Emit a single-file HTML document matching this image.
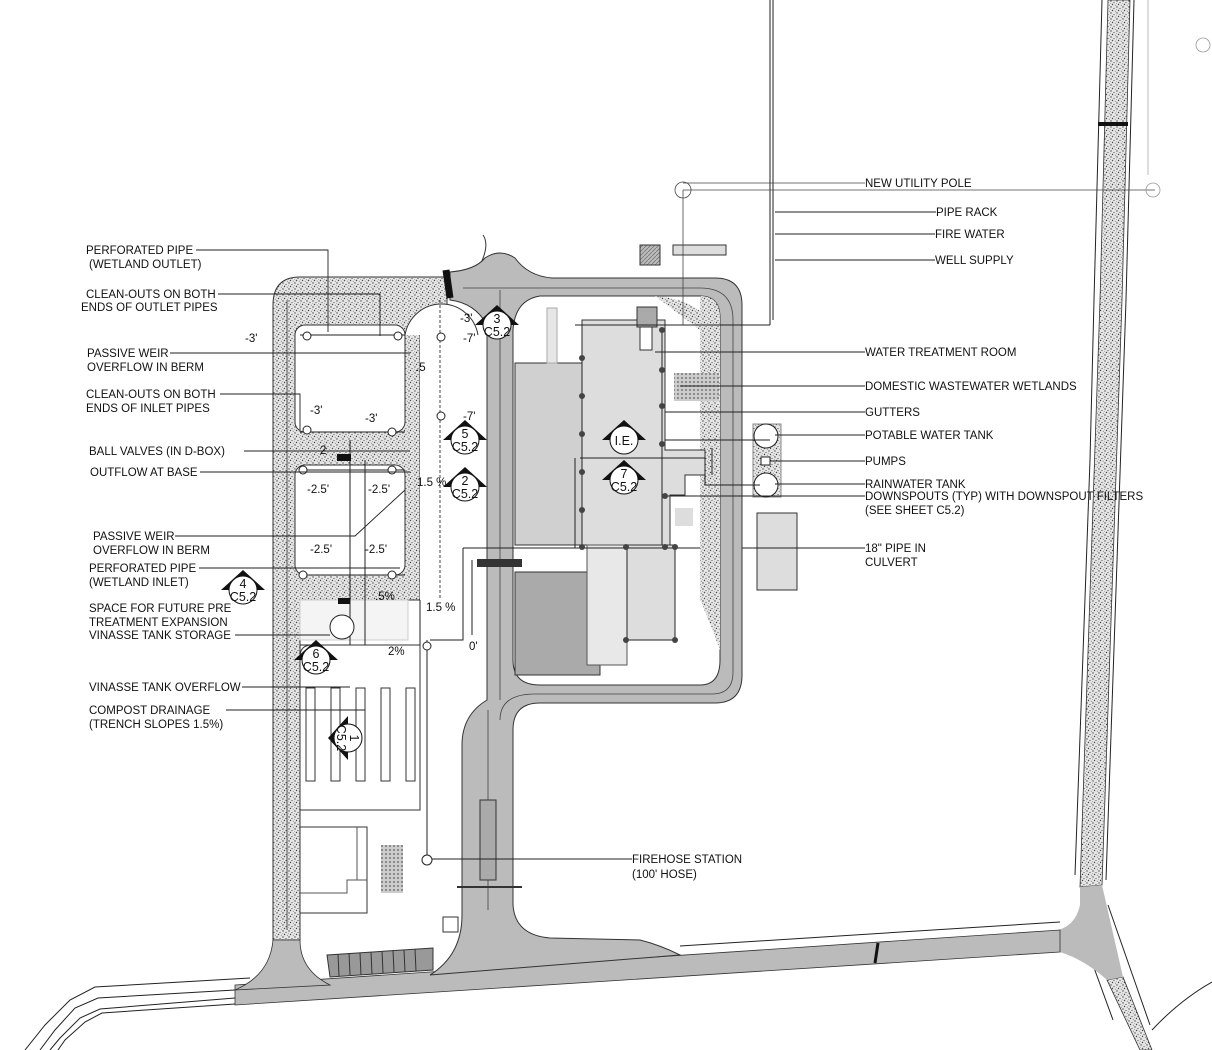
<!DOCTYPE html>
<html><head><meta charset="utf-8"><style>
html,body{margin:0;padding:0;background:#fff;}
svg{display:block;}
text{font-family:"Liberation Sans",sans-serif;font-size:11.5px;fill:#111;}
.m{font-size:12.5px;text-anchor:middle;}
</style></head><body>
<svg width="1212" height="1050" viewBox="0 0 1212 1050" xmlns="http://www.w3.org/2000/svg">
<defs>
<pattern id="st" width="6" height="6" patternUnits="userSpaceOnUse">
<rect width="6" height="6" fill="#e6e6e6"/>
<circle cx="1" cy="1" r="0.7" fill="#444"/><circle cx="4" cy="2.5" r="0.6" fill="#555"/><circle cx="2.5" cy="4.5" r="0.7" fill="#444"/><circle cx="5.3" cy="5.3" r="0.5" fill="#666"/><circle cx="0.5" cy="3.5" r="0.4" fill="#777"/>
</pattern>
<pattern id="hx" width="4" height="4" patternUnits="userSpaceOnUse"><rect width="4" height="4" fill="#ccc"/><circle cx="2" cy="2" r="1" fill="#777"/></pattern>
<pattern id="hatch" width="4" height="4" patternUnits="userSpaceOnUse"><rect width="4" height="4" fill="#bbb"/><path d="M0 4L4 0" stroke="#777" stroke-width="0.8"/></pattern>
</defs>

<!-- right road (vertical) -->
<path d="M1108 0 L1130 0 L1122 300 L1102 885 L1080 887 L1100 300 Z" fill="url(#st)" stroke="#333" stroke-width="0.8"/>
<path d="M1102 0 L1094 300 L1090 460 L1075 875" fill="none" stroke="#222"/>
<path d="M1134 0 L1126 300 L1106 880" fill="none" stroke="#222"/>
<line x1="1098" y1="124" x2="1128" y2="124" stroke="#111" stroke-width="4"/>
<path d="M1107 980 L1123 977 L1152 1050 L1140 1050 Z" fill="url(#st)" stroke="#333" stroke-width="0.8"/>
<path d="M1093 965 L1113 1020" stroke="#222" fill="none"/>
<path d="M1108 905 L1150 1025" stroke="#222" fill="none"/>
<path d="M1152 1030 Q1180 1000 1212 982" stroke="#222" fill="none"/>
<!-- junction -->
<path d="M1080 887 L1102 885 L1123 977 L1107 980 Q1085 960 1060 952 L1053 931 Q1075 928 1080 905 Z" fill="#bbb"/>

<!-- bottom road -->
<path d="M235 985 L1060 930 L1060 952 L235 1005 Z" fill="#bbb" stroke="#333" stroke-width="0.8"/>
<path d="M680 946 L1060 922" stroke="#222" fill="none"/>
<line x1="878" y1="943" x2="875" y2="963" stroke="#111" stroke-width="3"/>
<!-- bottom-left lines -->
<path d="M250 978 L95 987 L70 1000 L45 1025 L25 1050" fill="none" stroke="#222"/>
<path d="M235 990 L98 998 L75 1008 L55 1030 L40 1050" fill="none" stroke="#222"/>
<path d="M235 998 L100 1009 L80 1018 L60 1038 L50 1050" fill="none" stroke="#222"/>
<path d="M235 1004 L102 1013 L85 1022 L65 1040 L58 1050" fill="none" stroke="#222"/>

<!-- left stippled berm -->
<path d="M273 305 Q273 277 300 277 L447 277 L447 330 L420 330 L420 600 L300 600 L300 940 L273 940 Z" fill="url(#st)" stroke="#333" stroke-width="1"/>
<rect x="295" y="325" width="110" height="107" rx="10" fill="#fff" stroke="#333"/>
<rect x="295" y="465" width="110" height="110" rx="10" fill="#fff" stroke="#333"/>
<path d="M287 300 L287 930" stroke="#555" fill="none"/>
<rect x="300" y="600" width="108" height="40" fill="#f4f4f4" stroke="#ccc"/>
<!-- bottom-left gray flare -->
<path d="M273 940 L300 940 Q300 970 330 985 L235 990 Q270 975 273 940 Z" fill="#bbb" stroke="#333" stroke-width="0.8"/>

<!-- arc cul-de-sac -->
<path d="M405 335 A37 37 0 0 1 478 335 L478 600 L420 600 L420 335 Z" fill="#fff"/>
<path d="M405 335 A37 37 0 0 1 478 335" fill="none" stroke="#333"/>
<path d="M440 300 L440 598" stroke="#444" stroke-dasharray="3 2"/>
<path d="M483 235 Q490 245 480 265" fill="none" stroke="#333"/>

<!-- main road -->
<path fill-rule="evenodd" d="M450 272 Q475 270 485 258 Q500 248 515 258 Q528 276 552 278 L715 278 Q742 278 742 305 L742 675 Q742 703 715 703 L540 703 Q513 703 513 730 L513 905 Q515 935 550 938 L640 940 Q660 945 680 955 L430 975 Q462 955 462 915 L462 745 Q462 715 487 700 L487 325 Q475 303 450 300 Z M540 296 L700 296 Q720 296 720 318 L720 660 Q720 685 700 685 L540 685 Q513 685 513 660 L513 330 Q515 300 540 296 Z" fill="#bbb" stroke="#333" stroke-width="1"/>
<path d="M463 288 L700 288 Q733 288 733 320 L733 672 Q733 694 712 694 L535 694 Q500 694 500 720 M500 290 L500 700 M488 710 L488 910" fill="none" stroke="#444" stroke-width="0.8"/>
<path d="M700 296 Q720 296 720 318 L720 650 Q705 610 700 600 Z" fill="url(#st)"/>
<path d="M655 296 Q705 300 716 335 L700 330 Z" fill="url(#st)"/>
<line x1="446" y1="270" x2="450" y2="298" stroke="#111" stroke-width="7"/>
<!-- culvert pipe -->
<rect x="477" y="559" width="45" height="8" fill="#333"/>
<!-- firehose station box -->
<rect x="480" y="800" width="16" height="80" fill="#aaa" stroke="#333"/>
<line x1="457" y1="887" x2="522" y2="887" stroke="#333" stroke-width="2"/>

<!-- buildings -->
<rect x="515" y="363" width="67" height="182" fill="#d0d0d0" stroke="#333"/>
<path d="M582 320 L640 320 L640 350 L652 350 L652 320 L665 320 L665 450 L705 450 L705 475 L685 475 L685 495 L670 495 L670 545 L582 545 Z" fill="#ddd" stroke="#333"/>
<path d="M515 572 L600 572 L600 600 L590 600 L590 660 L600 660 L600 675 L515 675 Z" fill="#aaa" stroke="#333"/>
<rect x="627" y="545" width="48" height="95" fill="#ddd" stroke="#333"/>
<rect x="587" y="545" width="40" height="120" fill="#e8e8e8" stroke="#555"/>
<rect x="547" y="308" width="10" height="55" fill="#e6e6e6" stroke="#aaa"/>
<rect x="675" y="508" width="18" height="18" fill="#ddd"/>
<rect x="640" y="245" width="20" height="20" fill="url(#hatch)" stroke="#333"/>
<rect x="673" y="245" width="53" height="10" fill="#ddd" stroke="#333"/>
<rect x="637" y="307" width="20" height="20" fill="#aaa" stroke="#333"/>
<rect x="674" y="373" width="45" height="28" fill="url(#hx)"/>
<rect x="757" y="513" width="40" height="77" fill="#ddd" stroke="#333"/>
<rect x="753" y="424" width="28" height="73" fill="url(#st)" stroke="#888"/>
<circle cx="766" cy="436" r="12" fill="#fff" stroke="#222"/>
<circle cx="766" cy="485" r="12" fill="#fff" stroke="#222"/>
<rect x="761" y="457" width="9" height="8" fill="#fff" stroke="#222"/>

<!-- pipe networks -->
<g fill="none" stroke="#222" stroke-width="1">
<path d="M582 325 L582 548 M575 325 L770 325 M770 0 L770 325 M773 0 L773 320"/>
<path d="M575 458 L575 548 L700 548 M580 458 L705 458 L705 485 L760 485 M662 330 L662 545 M665 440 L770 440 M712 448 L712 475 M668 548 L675 548 L675 640 L627 640 L627 548"/>
<path d="M463 548 L582 548 M463 548 L463 640 L430 640 M472 560 L472 635"/>
<path d="M300 335 L405 335 M300 575 L405 575 M300 470 L405 470 M300 432 L405 432"/>
<path d="M350 440 L350 720 M365 460 L365 710 M420 600 L420 645 L300 645"/>
<path d="M427 640 L427 860"/>
</g>
<g fill="none" stroke="#444" stroke-width="0.8">
<circle cx="683" cy="190" r="8"/><line x1="683" y1="190" x2="683" y2="325"/>
<line x1="683" y1="190" x2="1155" y2="190"/>
<line x1="683" y1="183" x2="865" y2="183"/>
<circle cx="1153" cy="190" r="7" stroke="#999"/><line x1="1148" y1="0" x2="1148" y2="175" stroke="#aaa"/>
<circle cx="1203" cy="45" r="7" stroke="#999"/>
</g>
<g fill="#fff" stroke="#222">
<circle cx="307" cy="336" r="4"/><circle cx="398" cy="336" r="4"/><circle cx="307" cy="430" r="4"/><circle cx="392" cy="432" r="4"/>
<circle cx="303" cy="470" r="4"/><circle cx="392" cy="470" r="4"/><circle cx="303" cy="575" r="4"/><circle cx="392" cy="575" r="4"/>
<circle cx="441" cy="337" r="4"/><circle cx="441" cy="416" r="4"/><circle cx="427" cy="860" r="5"/><circle cx="427" cy="646" r="4"/>
<circle cx="342" cy="627" r="12"/>
</g>
<g fill="#444">
<circle cx="582" cy="358" r="3"/><circle cx="582" cy="396" r="3"/><circle cx="582" cy="434" r="3"/><circle cx="582" cy="472" r="3"/><circle cx="582" cy="510" r="3"/><circle cx="582" cy="547" r="3"/>
<circle cx="662" cy="330" r="3"/><circle cx="662" cy="370" r="3"/><circle cx="662" cy="406" r="3"/><circle cx="662" cy="444" r="3"/><circle cx="665" cy="496" r="3"/>
<circle cx="626" cy="547" r="3"/><circle cx="665" cy="547" r="3"/><circle cx="675" cy="547" r="3"/><circle cx="626" cy="640" r="3"/><circle cx="675" cy="640" r="3"/>
</g>
<rect x="337" y="454" width="14" height="7" fill="#111"/>
<rect x="338" y="598" width="12" height="6" fill="#111"/>

<!-- compost area -->
<path d="M300 657 Q300 645 312 645 L420 645 L420 810 L300 810 Z" fill="#fff" stroke="#333"/>
<g fill="#fff" stroke="#333"><rect x="306" y="688" width="9" height="93"/><rect x="331" y="688" width="9" height="93"/><rect x="356" y="688" width="9" height="93"/><rect x="381" y="688" width="9" height="93"/><rect x="406" y="688" width="9" height="93"/></g>
<rect x="300" y="827" width="67" height="86" fill="#fff" stroke="#333"/>
<path d="M357 827 L357 880 L367 880 M300 893 L347 893 L347 880 L367 880" fill="none" stroke="#555"/>
<rect x="381" y="845" width="22" height="48" fill="url(#hx)"/>
<rect x="443" y="917" width="15" height="15" fill="#fff" stroke="#333"/>
<path d="M327 955 L433 948 L433 970 L330 977 Z" fill="#999" stroke="#333"/>
<g stroke="#333"><line x1="338" y1="954" x2="339" y2="976"/><line x1="349" y1="953" x2="350" y2="975"/><line x1="360" y1="953" x2="361" y2="975"/><line x1="371" y1="952" x2="372" y2="974"/><line x1="382" y1="951" x2="383" y2="973"/><line x1="393" y1="950" x2="394" y2="972"/><line x1="404" y1="950" x2="405" y2="972"/><line x1="415" y1="949" x2="416" y2="971"/></g>

<!-- leaders -->
<g stroke="#222" stroke-width="0.9" fill="none">
<path d="M196 250 L328 250 L328 332"/><path d="M218 294 L380 294 L380 336"/>
<path d="M170 353 L410 353"/><path d="M220 394 L300 394 L300 430"/>
<path d="M244 451 L410 451"/><path d="M200 472 L410 472"/>
<path d="M175 536 L355 536 L405 490"/><path d="M199 568 L400 568"/>
<path d="M235 635 L330 635"/><path d="M242 687 L350 687"/><path d="M226 710 L365 710"/>
<path d="M655 352 L865 352"/><path d="M680 386 L865 386"/><path d="M665 412 L865 412"/><path d="M775 435 L865 435"/><path d="M770 461 L865 461"/><path d="M775 484 L865 484"/><path d="M668 496 L865 496"/><path d="M742 548 L865 548"/>
<path d="M775 212 L936 212"/><path d="M775 234 L935 234"/><path d="M775 260 L935 260"/>
<path d="M432 859 L632 859"/>
</g>

<!-- elevation labels -->
<g font-size="11">
<text x="245" y="342">-3'</text><text x="460" y="322">-3'</text><text x="463" y="342">-7'</text><text x="463" y="420">-7'</text>
<text x="310" y="414">-3'</text><text x="365" y="422">-3'</text><text x="416" y="371">.5</text>
<text x="307" y="493">-2.5'</text><text x="368" y="493">-2.5'</text><text x="310" y="553">-2.5'</text><text x="365" y="553">-2.5'</text>
<text x="417" y="486">1.5 %</text><text x="426" y="611">1.5 %</text><text x="375" y="600">.5%</text><text x="388" y="655">2%</text><text x="469" y="650">0'</text><text x="320" y="454">2</text>
</g>

<!-- section markers -->
<g>
<g transform="translate(497,325)"><path d="M-22 0 L0 -20 L22 0 Z" fill="#111"/><circle r="14" fill="#fff" stroke="#111"/><text class="m" y="-2">3</text><text class="m" y="11">C5.2</text></g>
<g transform="translate(465,440)"><path d="M-22 0 L0 -20 L22 0 Z" fill="#111"/><circle r="14" fill="#fff" stroke="#111"/><text class="m" y="-2">5</text><text class="m" y="11">C5.2</text></g>
<g transform="translate(465,487)"><path d="M-22 0 L0 -20 L22 0 Z" fill="#111"/><circle r="14" fill="#fff" stroke="#111"/><text class="m" y="-2">2</text><text class="m" y="11">C5.2</text></g>
<g transform="translate(624,440)"><path d="M-22 0 L0 -20 L22 0 Z" fill="#111"/><circle r="14" fill="#fff" stroke="#111"/><text class="m" y="5">I.E.</text></g>
<g transform="translate(624,480)"><path d="M-22 0 L0 -20 L22 0 Z" fill="#111"/><circle r="14" fill="#fff" stroke="#111"/><text class="m" y="-2">7</text><text class="m" y="11">C5.2</text></g>
<g transform="translate(243,590)"><path d="M-22 0 L0 -20 L22 0 Z" fill="#111"/><circle r="14" fill="#fff" stroke="#111"/><text class="m" y="-2">4</text><text class="m" y="11">C5.2</text></g>
<g transform="translate(316,660)"><path d="M-22 0 L0 -20 L22 0 Z" fill="#111"/><circle r="14" fill="#fff" stroke="#111"/><text class="m" y="-2">6</text><text class="m" y="11">C5.2</text></g>
<g transform="translate(348,738) rotate(90)"><path d="M-22 0 L0 20 L22 0 Z" fill="#111"/><circle r="14" fill="#fff" stroke="#111"/><text class="m" y="-2">1</text><text class="m" y="11">C5.2</text></g>
</g>

<!-- labels left -->
<text x="86" y="254">PERFORATED PIPE</text><text x="89" y="268">(WETLAND OUTLET)</text>
<text x="86" y="298">CLEAN-OUTS ON  BOTH</text><text x="81" y="311">ENDS OF OUTLET PIPES</text>
<text x="87" y="357">PASSIVE WEIR</text><text x="87" y="371">OVERFLOW IN BERM</text>
<text x="86" y="398">CLEAN-OUTS ON  BOTH</text><text x="86" y="412">ENDS OF INLET PIPES</text>
<text x="89" y="455">BALL VALVES (IN D-BOX)</text>
<text x="90" y="476">OUTFLOW AT BASE</text>
<text x="93" y="540">PASSIVE WEIR</text><text x="93" y="554">OVERFLOW IN BERM</text>
<text x="89" y="572">PERFORATED PIPE</text><text x="89" y="586">(WETLAND INLET)</text>
<text x="89" y="612">SPACE FOR FUTURE PRE</text><text x="89" y="626">TREATMENT EXPANSION</text><text x="89" y="639">VINASSE TANK STORAGE</text>
<text x="89" y="691">VINASSE TANK OVERFLOW</text>
<text x="89" y="714">COMPOST DRAINAGE</text><text x="89" y="728">(TRENCH SLOPES 1.5%)</text>
<!-- labels right -->
<text x="865" y="187">NEW UTILITY POLE</text>
<text x="936" y="216">PIPE RACK</text>
<text x="935" y="238">FIRE WATER</text>
<text x="935" y="264">WELL SUPPLY</text>
<text x="865" y="356">WATER TREATMENT ROOM</text>
<text x="865" y="390">DOMESTIC WASTEWATER WETLANDS</text>
<text x="865" y="416">GUTTERS</text>
<text x="865" y="439">POTABLE WATER TANK</text>
<text x="865" y="465">PUMPS</text>
<text x="865" y="488">RAINWATER TANK</text>
<text x="865" y="500">DOWNSPOUTS (TYP) WITH DOWNSPOUT FILTERS</text>
<text x="865" y="514">(SEE SHEET C5.2)</text>
<text x="865" y="552">18" PIPE IN</text><text x="865" y="566">CULVERT</text>
<text x="632" y="863">FIREHOSE STATION</text><text x="632" y="878">(100' HOSE)</text>
</svg>
</body></html>
